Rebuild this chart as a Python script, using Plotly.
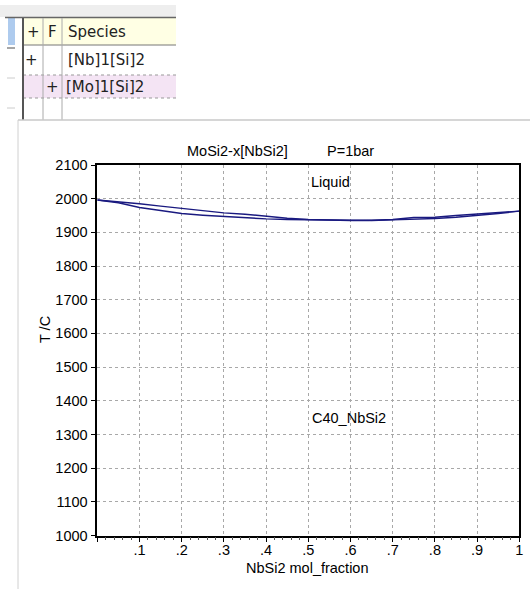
import plotly.graph_objects as go

# ---------------- data ----------------
x_frac = [0, .05, .1, .15, .2, .25, .3, .35, .4, .45, .5, .55, .6, .65, .7, .75, .8, .85, .9, .95, 1]
T_liquidus = [1996, 1991, 1985, 1978, 1971, 1964, 1958, 1954, 1947, 1942, 1938, 1936, 1935, 1936, 1938, 1944, 1945, 1950, 1954, 1958, 1963]
T_solidus = [1996, 1988, 1974, 1966, 1956, 1951, 1947, 1943, 1940, 1938, 1937, 1936, 1935, 1935, 1937, 1938, 1941, 1945, 1950, 1956, 1963]

x_tickvals = [0, .1, .2, .3, .4, .5, .6, .7, .8, .9, 1]
x_ticktext = ["", ".1", ".2", ".3", ".4", ".5", ".6", ".7", ".8", ".9", "1"]
y_tickvals = [1000, 1100, 1200, 1300, 1400, 1500, 1600, 1700, 1800, 1900, 2000, 2100]

title_left = "MoSi2-x[NbSi2]"
title_right = "P=1bar"
x_title = "NbSi2 mol_fraction"
y_title = "T /C"
phase_labels = [("Liquid", 0.502, 2050), ("C40_NbSi2", 0.503, 1348)]

table_header = ["+", "F", "Species"]
table_rows = [["+", "", "[Nb]1[Si]2"], ["", "+", "[Mo]1[Si]2"]]

# ---------------- layout helpers ----------------
W, H = 530, 589
def px(x):
    return x / W
def py(y):
    return 1 - y / H

LINE = "#1a1a80"
FONT = "Liberation Sans, Arial, sans-serif"
TFONT = "DejaVu Sans, Tahoma, sans-serif"

fig = go.Figure()
fig.add_trace(go.Scatter(x=x_frac, y=T_liquidus, mode="lines",
                         line=dict(color=LINE, width=1.4), showlegend=False))
fig.add_trace(go.Scatter(x=x_frac, y=T_solidus, mode="lines",
                         line=dict(color=LINE, width=1.4), showlegend=False))

shapes = []
def rect(x0, y0, x1, y1, fill):
    shapes.append(dict(type="rect", xref="paper", yref="paper", x0=px(x0), x1=px(x1),
                       y0=py(y1), y1=py(y0), fillcolor=fill, line=dict(width=0), layer="below"))
def line(x0, y0, x1, y1, color, width=1, dash="solid"):
    shapes.append(dict(type="line", xref="paper", yref="paper", x0=px(x0), x1=px(x1),
                       y0=py(y0), y1=py(y1), line=dict(color=color, width=width, dash=dash)))

# table (screenshot part)
rect(0, 5, 176, 17, "#eeeeee")
rect(23, 18, 176, 45, "#ffffe4")
rect(23, 75, 176, 98, "#f4e4f4")
rect(8, 18, 15, 45, "#aecbee")
line(5, 17.5, 176, 17.5, "#666666", 1.5)
line(23, 45, 176, 45, "#777777", 1)
line(23, 75, 176, 75, "#999999", 1, "dot")
line(23, 98, 176, 98, "#999999", 1, "dot")
line(23, 18, 23, 120, "#555555", 2)
line(43, 18, 43, 120, "#aaaaaa", 1)
line(62, 18, 62, 120, "#aaaaaa", 1)
line(7, 48, 15, 48, "#888888", 1.5)
line(7, 78, 15, 78, "#cccccc", 1)
line(7, 108, 15, 108, "#cccccc", 1)
# chart panel border
line(18, 120, 530, 120, "#c8c8c8", 1.5)
line(18, 120, 18, 589, "#d0d0d0", 1)

annotations = []
def txt(s, x, y, anchor="center", size=15, font=TFONT, color="#222222", angle=0):
    annotations.append(dict(text=s, x=px(x), y=py(y), xref="paper", yref="paper",
                            xanchor=anchor, yanchor="middle", showarrow=False, textangle=angle,
                            font=dict(family=font, size=size, color=color)))

col_x = [(33, "center"), (52, "center"), (66, "left")]
for (cx, anc), s in zip(col_x, table_header):
    txt(s, cx, 31.5, anc)
row_y = [60, 87]
row_cols = [[(31, "center"), (52, "center"), (66, "left")],
            [(31, "center"), (52, "center"), (64, "left")]]
for r, ry, cols in zip(table_rows, row_y, row_cols):
    for (cx, anc), s in zip(cols, r):
        if s:
            txt(s, cx, ry, anc)

# chart text
txt(title_left, 185, 151, "left", 14.5, FONT, "#000000")
txt(title_right, 325, 151, "left", 14.5, FONT, "#000000")
txt(x_title, 307, 568, "center", 14.5, FONT, "#000000")
txt(y_title, 45, 330, "center", 14.5, FONT, "#000000", -90)

for s, xv, yv in phase_labels:
    annotations.append(dict(text=s, x=xv, y=yv, xref="x", yref="y", xanchor="left",
                            yanchor="middle", showarrow=False,
                            font=dict(family=FONT, size=14.5, color="#000000")))

x0p, x1p = 97.3, 519.3
ytop, ybot = 165, 535.5

fig.update_layout(
    width=W, height=H,
    margin=dict(l=0, r=0, t=0, b=0),
    paper_bgcolor="white", plot_bgcolor="white",
    shapes=shapes, annotations=annotations,
    font=dict(family=FONT, size=14.5, color="#000000"),
    xaxis=dict(domain=[px(x0p), px(x1p)], range=[0, 1], tickmode="array",
               tickvals=x_tickvals, ticktext=x_ticktext, ticks="outside", ticklen=5,
               ticklabelstandoff=-5,
               tickcolor="#000000", showline=True, linecolor="#000000", linewidth=1.6,
               mirror=True, showgrid=True, gridcolor="#a8a8a8", griddash="dot", gridwidth=1,
               zeroline=False, automargin=False,
               minor=dict(dtick=0.02, tick0=0, ticks="outside", ticklen=3,
                          tickcolor="#555555", showgrid=False)),
    yaxis=dict(domain=[py(ybot), py(ytop)], range=[1000, 2100], tickmode="array",
               tickvals=y_tickvals, ticks="outside", ticklen=5, tickcolor="#000000",
               showline=True, linecolor="#000000", linewidth=1.6, mirror=True,
               showgrid=True, gridcolor="#a8a8a8", griddash="dot", gridwidth=1,
               zeroline=False, automargin=False),
)

fig.write_html("out.html", config={"displayModeBar": False},
               post_script="document.body.style.margin='0';document.body.style.padding='0';")
